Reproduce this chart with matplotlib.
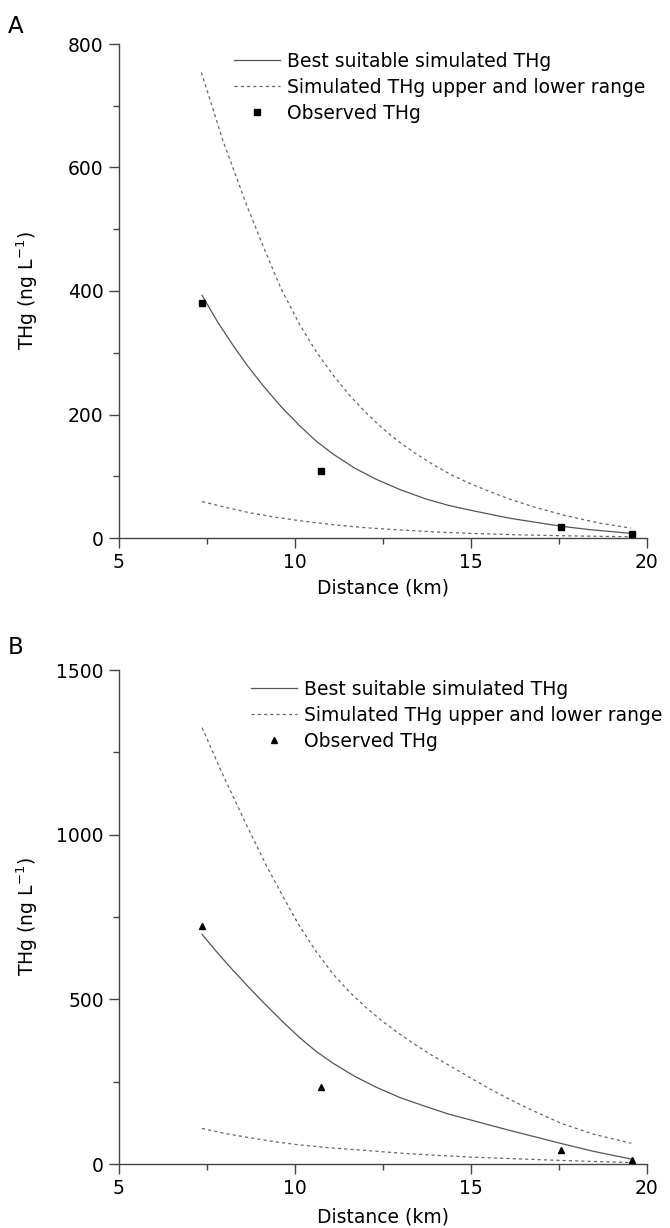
import matplotlib
matplotlib.use("Agg")
import matplotlib.pyplot as plt
from matplotlib.ticker import MultipleLocator

# observed stations (km) and THg (ng/L)
obs_x = [7.35, 10.75, 17.57, 19.57]
obs_a = [381, 109, 18, 7]
obs_b = [722, 235, 42, 12]

# panel A simulated curves
best_a_x = [7.36, 7.8, 8.24, 8.65, 9.09, 9.6, 10.13, 10.6, 11.08, 11.7, 12.31, 13.0,
            13.73, 14.35, 14.98, 16.1, 17.0, 17.57, 18.38, 19.55]
best_a_y = [393, 350, 312, 279, 247, 213, 182, 157, 136, 113, 95, 78,
            63, 53, 45, 32, 24, 19, 13.5, 7.5]
up_a_x = [7.34, 7.95, 8.62, 9.1, 9.61, 10.13, 10.6, 11.08, 11.55, 12.03, 12.5, 12.97,
          13.45, 13.92, 14.45, 14.98, 15.5, 16.1, 16.8, 17.57, 18.1, 18.66, 19.55]
up_a_y = [754, 644, 540, 472, 403, 346, 302, 264, 231, 202, 177, 155,
          136, 119, 102, 88, 76, 63, 50, 38, 31, 24, 16]
low_a_x = [7.36, 8.0, 8.7, 9.4, 10.13, 11.0, 12.03, 13.0, 13.92, 15.0, 16.1, 17.5, 18.7, 19.55]
low_a_y = [59, 50, 41, 34, 28, 22, 16.5, 13, 10, 7.5, 5.5, 3.8, 2.7, 2]

# panel B simulated curves
best_b_x = [7.36, 7.8, 8.24, 8.7, 9.19, 9.65, 10.13, 10.6, 11.08, 11.7, 12.31, 13.0,
            13.73, 14.35, 14.98, 15.5, 16.1, 16.8, 17.57, 18.5, 19.55]
best_b_y = [697, 641, 588, 535, 481, 432, 384, 342, 306, 266, 233, 201,
            174, 152, 134, 119, 102, 83, 62, 38, 15]
up_b_x = [7.36, 7.95, 8.62, 9.2, 9.85, 10.13, 10.6, 11.08, 11.55, 12.03, 12.5, 12.97,
          13.45, 13.92, 14.45, 14.98, 15.5, 16.1, 16.8, 17.57, 18.5, 19.55]
up_b_y = [1325, 1182, 1030, 903, 775, 722, 645, 577, 522, 474, 432, 395,
          360, 328, 295, 262, 230, 196, 160, 123, 90, 63]
low_b_x = [7.36, 8.0, 8.7, 9.4, 10.13, 11.0, 12.03, 13.0, 13.92, 15.0, 16.1, 17.5, 18.7, 19.55]
low_b_y = [108, 93, 80, 68, 58, 49, 41, 33, 27, 21, 16.5, 11, 7, 4.5]

W, H = 670, 1228
fig = plt.figure(figsize=(W / 100, H / 100), dpi=100)

line_c = "#555555"
dash_c = "#666666"
spine_c = "#444444"
fs = 13.5


def style_axes(ax, ymax, ymaj, xlab_y):
    ax.set_xlim(5, 20)
    ax.set_ylim(0, ymax)
    for s in ["top", "right"]:
        ax.spines[s].set_visible(False)
    for s in ["left", "bottom"]:
        ax.spines[s].set_color(spine_c)
        ax.spines[s].set_linewidth(1.0)
    ax.xaxis.set_major_locator(MultipleLocator(5))
    ax.xaxis.set_minor_locator(MultipleLocator(2.5))
    ax.yaxis.set_major_locator(MultipleLocator(ymaj))
    ax.yaxis.set_minor_locator(MultipleLocator(ymaj / 2))
    ax.tick_params(which="major", length=7, width=1.0, color=spine_c,
                   labelsize=fs, pad=4)
    ax.tick_params(which="minor", length=4, width=1.0, color=spine_c)
    ax.set_xlabel("Distance (km)", fontsize=fs)
    ax.set_ylabel(r"THg (ng L$^{-1}$)", fontsize=fs)
    ax.xaxis.set_label_coords(0.5, xlab_y)
    ax.yaxis.set_label_coords(-0.150, 0.5)


def draw(ax, bx, by, ux, uy, lx, ly, ox, oy, marker, ms, leg_anchor):
    ax.plot(bx, by, color=line_c, lw=0.9, label="Best suitable simulated THg")
    ax.plot(ux, uy, color=dash_c, lw=0.9, dashes=(2.5, 2.5),
            label="Simulated THg upper and lower range")
    ax.plot(lx, ly, color=dash_c, lw=0.9, dashes=(2.5, 2.5))
    ax.plot(ox, oy, linestyle="none", marker=marker, ms=ms, color="black",
            label="Observed THg", clip_on=False, zorder=5)
    ax.legend(loc="upper left", bbox_to_anchor=leg_anchor,
              bbox_transform=fig.transFigure, frameon=False, fontsize=fs,
              borderpad=0, borderaxespad=0, handlelength=2.45,
              handletextpad=0.4, labelspacing=0.37)


ax_a = fig.add_axes([119 / W, 1 - 538 / H, 528 / W, 494 / H])
style_axes(ax_a, 800, 200, -0.081)
draw(ax_a, best_a_x, best_a_y, up_a_x, up_a_y, low_a_x, low_a_y,
     obs_x, obs_a, "s", 4.3, (234 / W, 1 - 52 / H))

ax_b = fig.add_axes([119 / W, 1 - 1164 / H, 528 / W, 494 / H])
style_axes(ax_b, 1500, 500, -0.089)
draw(ax_b, best_b_x, best_b_y, up_b_x, up_b_y, low_b_x, low_b_y,
     obs_x, obs_b, "^", 5.0, (251 / W, 1 - 680 / H))

fig.text(8 / W, 1 - 15 / H, "A", fontsize=16.5, va="top", ha="left")
fig.text(8 / W, 1 - 636 / H, "B", fontsize=16.5, va="top", ha="left")

fig.savefig("out.png", dpi=100)
